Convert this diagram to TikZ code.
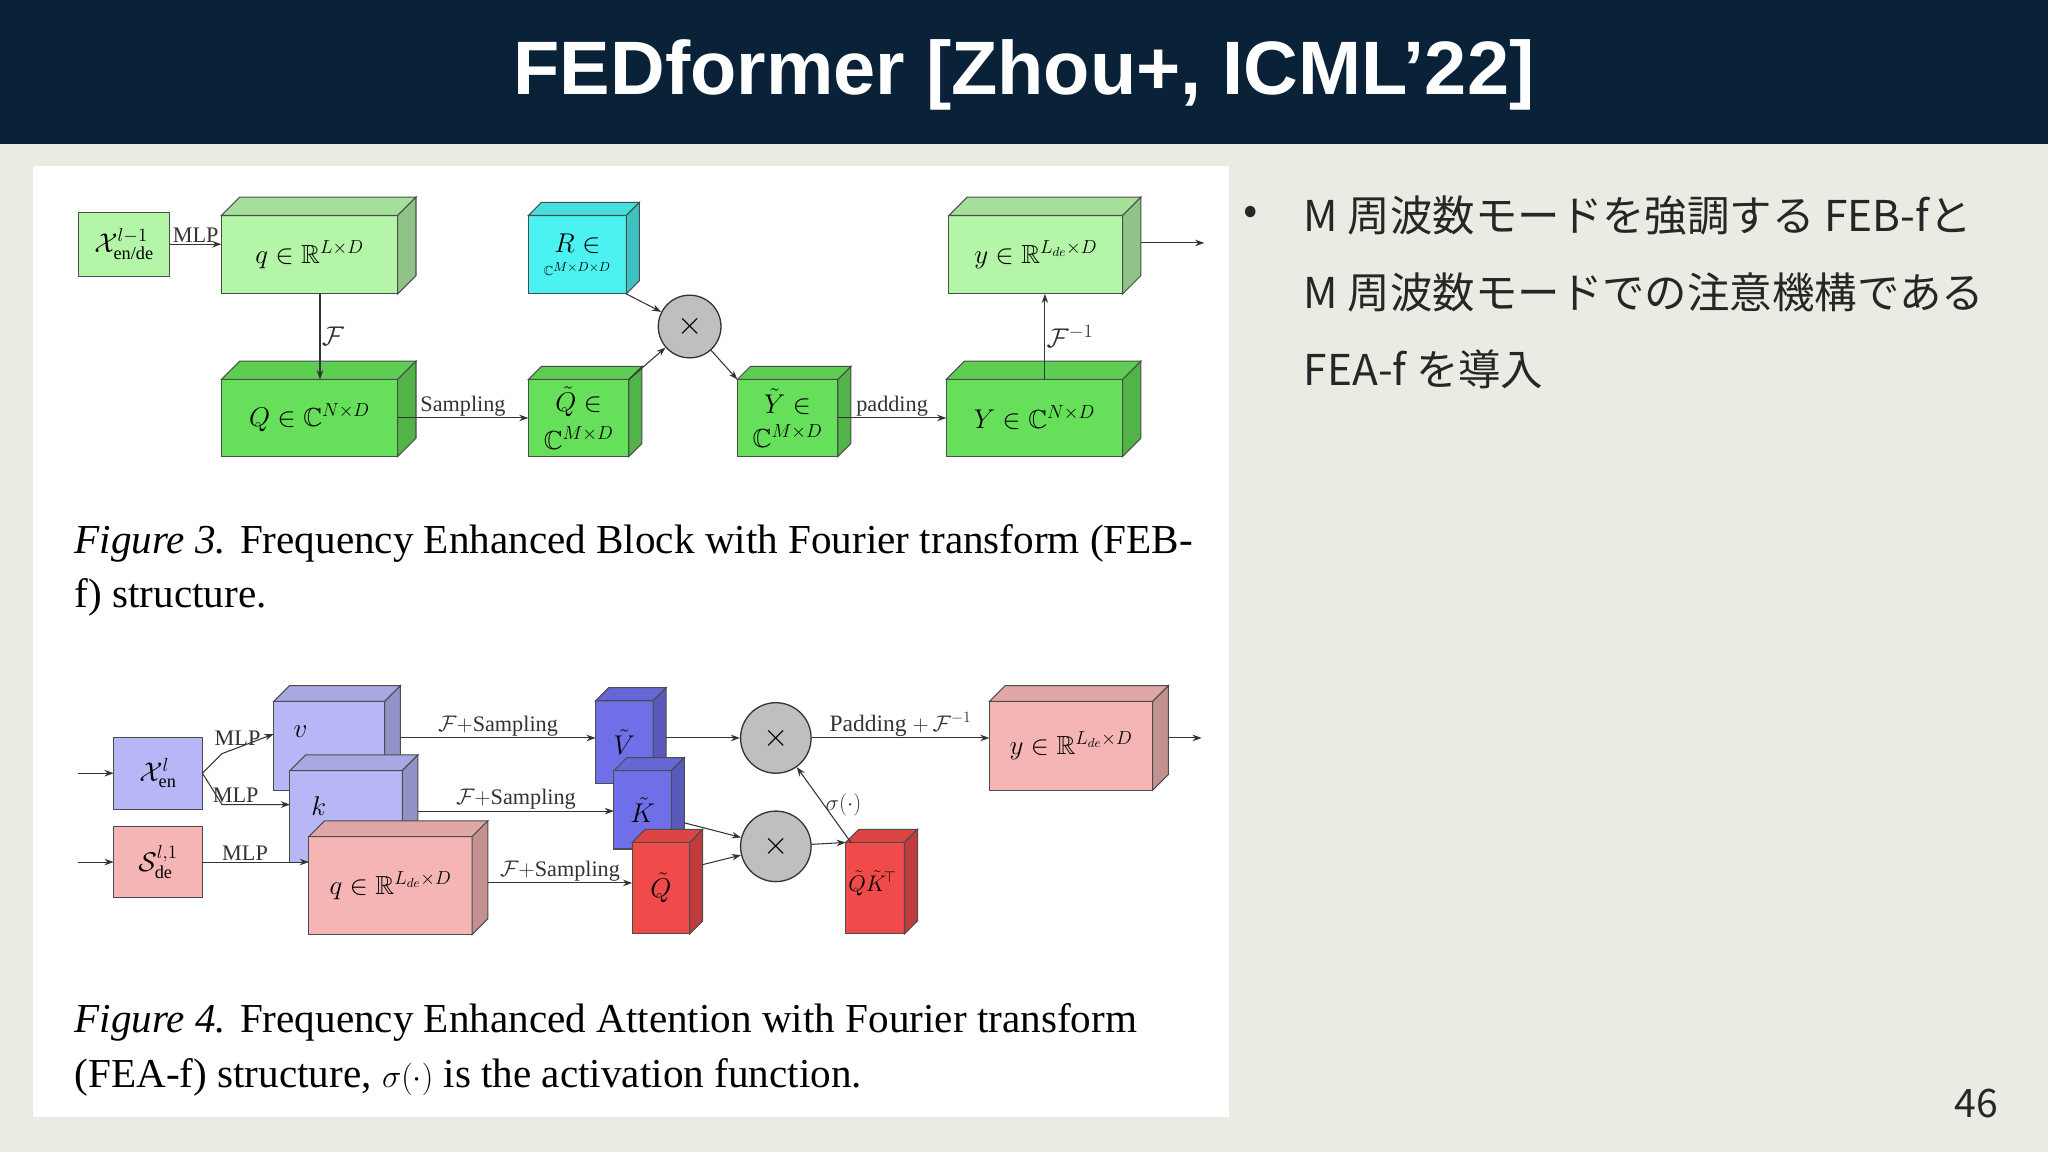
\documentclass[tikz,border=0pt]{standalone}
\usepackage{amsmath,amssymb}
\usepackage{fontspec}
\setmainfont{Liberation Serif}
\newfontfamily\ttl{Liberation Sans}
\newfontfamily\cjk{Noto Sans CJK JP}
\usetikzlibrary{arrows.meta,calc}
\definecolor{navy}{HTML}{0A2238}
\definecolor{bg}{HTML}{ECEBE3}
\definecolor{lg}{HTML}{B4F5A8}
\definecolor{dg}{HTML}{66E05A}
\definecolor{cy}{HTML}{4CF2F2}
\definecolor{lv}{HTML}{B7B7F7}
\definecolor{bl}{HTML}{6F6FE8}
\definecolor{pk}{HTML}{F5B5B5}
\definecolor{rd}{HTML}{F04A4A}
\newcommand\mycube[8]{%
 \node[box,fill=#7,minimum width=#4pt,minimum height=#5pt] (#1) at (#2,#3) {#8};
 \filldraw[fill=#7!92!black,draw=black!70,line width=0.8pt] (#1.north west) -- ++(#6pt,#6pt) -- ++(#4pt,0) -- ++(-#6pt,-#6pt) -- cycle;
 \filldraw[fill=#7!80!black,draw=black!70,line width=0.8pt] (#1.north east) -- ++(#6pt,#6pt) -- ++(0,-#5pt) -- ++(-#6pt,-#6pt) -- cycle;}
\tikzset{
 box/.style={draw=black!70,line width=0.8pt,outer sep=0pt,inner sep=1pt,font=\fontsize{20}{22}\selectfont},
 flat/.style={box},
 arr/.style={-{Stealth[length=7pt,width=5pt]},line width=0.8pt,black!80},
 cross/.style={circle,draw=black!80,fill=black!25,line width=1pt,minimum size=#1pt,inner sep=0pt,font=\fontsize{30}{30}\selectfont},
 lab/.style={font=\fontsize{17}{19}\selectfont,inner sep=1pt},
 blab/.style={font=\fontsize{22}{24}\selectfont,inner sep=0pt},
 captxt/.style={anchor=west,font=\fontsize{31.5}{34}\selectfont,inner sep=0pt},
 jp/.style={anchor=west,font=\cjk\fontsize{32.5}{34}\selectfont,inner sep=0pt,text=black!85}
}
\begin{document}
\begin{tikzpicture}[x=1pt,y=-1pt]
\useasboundingbox (0,0) rectangle (1568,882);
\fill[bg] (0,0) rectangle (1568,882);
\fill[navy] (0,0) rectangle (1568,110);
\node[text=white,font=\ttl\bfseries\fontsize{58}{62}\selectfont] (title) at (784,57) {FEDformer [Zhou+, ICML’22]};
\fill[white] (25,127) rectangle (941,855);
% ---------- Figure 3
\node[flat,fill=lg,minimum width=70pt,minimum height=49pt] (x3) at (95,187) {$\mathcal{X}^{l-1}_{\text{en/de}}$};
\mycube{q3}{237}{195}{135}{60}{14}{lg}{$q\in\mathbb{R}^{L\times D}$}
\mycube{R3}{442}{195}{75}{60}{10}{cy}{\shortstack{$R\in$\\[4pt]$\scriptscriptstyle\mathbb{C}^{M\times D\times D}$}}
\mycube{y3}{793}{195}{133}{60}{14}{lg}{$y\in\mathbb{R}^{L_{de}\times D}$}
\mycube{Q3}{237}{320}{135}{59}{14}{dg}{$Q\in\mathbb{C}^{N\times D}$}
\mycube{Qt3}{443}{320}{77}{59}{10}{dg}{\shortstack{$\tilde{Q}\in$\\[5pt]$\mathbb{C}^{M\times D}$}}
\mycube{Yt3}{603}{320}{77}{59}{10}{dg}{\shortstack{$\tilde{Y}\in$\\[5pt]$\mathbb{C}^{M\times D}$}}
\mycube{Y3}{792}{320}{135}{59}{14}{dg}{$Y\in\mathbb{C}^{N\times D}$}
\node[cross=48] (c3) at (528,250) {$\times$};
\coordinate (o3) at (922,186);
\draw[arr] (x3.east) -- node[lab,above]{MLP} (x3.east -| q3.west);
\draw[arr] (q3.south -| 245,0) -- node[lab,right,font=\fontsize{22}{22}\selectfont]{$\mathcal{F}$} (Q3.north -| 245,0);
\draw[arr] (Q3.east) -- node[lab,above]{Sampling} (Qt3.west);
\draw[arr] (R3.south east) -- (c3);
\draw[arr] (Qt3.north east) -- (c3);
\draw[arr] (c3) -- (Yt3.north west);
\draw[arr] (Yt3.east) -- node[lab,above]{padding} (Y3.west);
\draw[arr] (Y3.north -| 800,0) -- node[lab,right,font=\fontsize{22}{22}\selectfont]{$\mathcal{F}^{-1}$} (y3.south -| 800,0);
\draw[arr] (y3.east |- o3) ++(14,0) -- (o3);
\node[captxt] (cap3a) at (57,416) {\textit{Figure 3.} Frequency Enhanced Block with Fourier transform (FEB-};
\node[captxt] (cap3b) at (57,457) {f) structure.};
% ---------- Figure 4
\node[flat,fill=lv,minimum width=68pt,minimum height=55pt] (xe) at (121,592) {$\mathcal{X}^{l}_{\text{en}}$};
\node[flat,fill=pk,minimum width=68pt,minimum height=55pt] (sd) at (121,660) {$\mathcal{S}^{l,1}_{\text{de}}$};
\coordinate (i1) at (60,592); \coordinate (i2) at (60,660);
\draw[arr] (i1) -- (xe.west); \draw[arr] (i2) -- (sd.west);
\mycube{v4}{252}{571}{85}{68}{12}{lv}{}
\node[blab] (vl) at (230,560) {$v$};
\mycube{k4}{265}{625}{86}{70}{12}{lv}{}
\node[blab] (kl) at (244,617) {$k$};
\mycube{q4}{299}{678}{125}{75}{12}{pk}{$q\in\mathbb{R}^{L_{de}\times D}$}
\mycube{Vt}{478}{568}{44}{63}{10}{bl}{$\tilde{V}$}
\mycube{Kt}{492}{620}{44}{60}{10}{bl}{$\tilde{K}$}
\mycube{Qt4}{506}{680}{44}{70}{10}{rd}{$\tilde{Q}$}
\mycube{QK}{670}{680}{45}{70}{10}{rd}{}
\node[font=\fontsize{18}{20}\selectfont,inner sep=0pt] (qkl) at (668,676) {$\tilde{Q}\tilde{K}^{\!\top}$};
\mycube{y4}{820}{571}{125}{68}{12}{pk}{$y\in\mathbb{R}^{L_{de}\times D}$}
\node[cross=54] (c41) at (594,565) {$\times$};
\node[cross=54] (c42) at (594,648) {$\times$};
\coordinate (o4) at (920,565);
\draw[arr] (xe.east) -- ++(15,-15) -- node[lab,above,pos=0.3]{MLP} (v4.west |- 0,562);
\draw[arr] (xe.east) -- ++(15,24) -- node[lab,above,pos=0.2]{MLP} (k4.west |- 0,616);
\draw[arr] (sd.east) -- node[lab,above,pos=0.4]{MLP} (sd.east -| q4.west);
\draw[arr] (v4.east |- 0,565) ++(12,0) -- node[lab,above]{$\mathcal{F}+$Sampling} (Vt.west |- 0,565);
\draw[arr] (k4.east |- 0,621) ++(12,0) -- node[lab,above]{$\mathcal{F}+$Sampling} (Kt.west |- 0,621);
\draw[arr] (q4.east |- 0,676) ++(12,0) -- node[lab,above]{$\mathcal{F}+$Sampling} (Qt4.west |- 0,676);
\draw[arr] (Vt.east |- 0,565) ++(10,0) -- (c41.west);
\draw[arr] (Kt.east |- 0,630) ++(10,0) -- (c42);
\draw[arr] (Qt4.east |- 0,662) ++(10,0) -- (c42);
\draw[arr] (c42) -- (QK.north west);
\draw[arr] (QK.north west) ++(4,0) -- node[lab,right]{$\sigma(\cdot)$} (c41);
\draw[arr] (c41.east) -- node[lab,above,font=\fontsize{18}{20}\selectfont]{Padding $+\,\mathcal{F}^{-1}$} (y4.west |- c41);
\draw[arr] (y4.east |- o4) ++(12,0) -- (o4);
\node[captxt] (cap4a) at (57,783) {\textit{Figure 4.} Frequency Enhanced Attention with Fourier transform};
\node[captxt] (cap4b) at (57,825) {(FEA-f) structure, $\sigma(\cdot)$ is the activation function.};
% ---------- right text
\node[jp] (b1) at (952,165) {•};
\node[jp] (t1) at (998,165) {M 周波数モードを強調する FEB-fと};
\node[jp] (t2) at (998,224) {M 周波数モードでの注意機構である};
\node[jp] (t3) at (998,283) {FEA-f を導入};
\node[font=\cjk\fontsize{30}{32}\selectfont,text=black!85] (pg) at (1513,845) {46};
\end{tikzpicture}
\end{document}
